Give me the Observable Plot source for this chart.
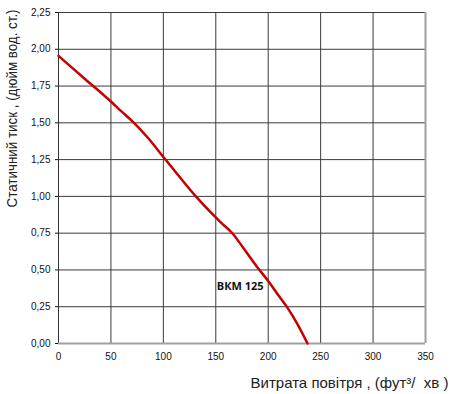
<!DOCTYPE html>
<html><head><meta charset="utf-8">
<script src="https://cdn.jsdelivr.net/npm/d3@7"></script>
<script src="https://cdn.jsdelivr.net/npm/@observablehq/plot@0.6"></script>
<style>body{margin:0;background:#fff}</style>
</head><body><div id="chart"></div>
<script>
const flowX = [0, 25, 50, 60, 72, 85, 100, 113, 131, 145, 155, 166, 177, 190, 200, 209, 218, 228, 237.5];
const pressureY = [1.955, 1.80, 1.645, 1.578, 1.50, 1.40, 1.268, 1.154, 1.0, 0.893, 0.822, 0.748, 0.642, 0.515, 0.425, 0.335, 0.247, 0.13, 0];
const xTicks = [0, 50, 100, 150, 200, 250, 300, 350];
const yTicks = [0, 0.25, 0.5, 0.75, 1.0, 1.25, 1.5, 1.75, 2.0, 2.25];
const seriesLabel = "ВКМ 125";
const xLabel = "Витрата повітря , (фут³/  хв )";
const yLabel = "Статичний тиск , (дюйм вод. ст.)";

const data = flowX.map((x, i) => ({x, y: pressureY[i]}));
const fmtY = d => d.toFixed(2).replace(".", ",");

const chart = Plot.plot({
  width: 450, height: 394,
  marginLeft: 58, marginRight: 25, marginTop: 12, marginBottom: 51,
  style: {fontFamily: "Liberation Sans, Arial, sans-serif", fontSize: "10px", background: "#fff", color: "#111"},
  x: {domain: [0, 350], label: null},
  y: {domain: [0, 2.25], label: null},
  marks: [
    Plot.ruleX(xTicks.slice(1, -1), {stroke: "#3a3a3a", strokeWidth: 1}),
    Plot.ruleY(yTicks.slice(1), {stroke: "#3a3a3a", strokeWidth: 1}),
    Plot.ruleX([350], {stroke: "#a0a0a0", strokeWidth: 2}),
    Plot.ruleX([0], {stroke: "#333", strokeWidth: 1}),
    Plot.ruleY([0], {stroke: "#a0a0a0", strokeWidth: 2}),
    Plot.axisX({ticks: xTicks, tickFormat: d => d, tickSize: 0, tickPadding: 9, label: null}),
    Plot.axisY({ticks: yTicks, tickFormat: fmtY, tickSize: 3, tickPadding: 5, label: null}),
    Plot.line(data, {x: "x", y: "y", stroke: "#c40000", strokeWidth: 2.5, curve: "monotone-x"}),
    Plot.text([seriesLabel], {x: 173.3, y: 0.39, text: d => d, fontFamily: "Open Sans, sans-serif", fontWeight: "bold", fontSize: 11, fill: "#111"}),
    Plot.text([xLabel], {frameAnchor: "bottom-right", lineAnchor: "middle", dy: 40, dx: 23, textAnchor: "end", text: d => d, fontSize: 15, fill: "#222"}),
    Plot.text([yLabel], {x: 0, y: 1.598, dx: -46, rotate: -90, textAnchor: "middle", lineAnchor: "middle", text: d => d, fontSize: 14, fill: "#222", className: "ylab"})
  ]
});
d3.select(chart).selectAll(".ylab text").attr("textLength", 198).attr("lengthAdjust", "spacingAndGlyphs");
document.getElementById("chart").appendChild(chart);
</script>
</body></html>
